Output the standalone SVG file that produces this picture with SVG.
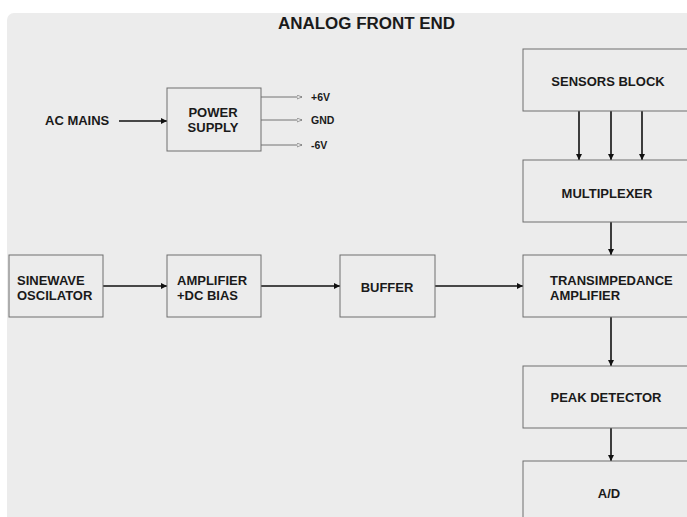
<svg xmlns="http://www.w3.org/2000/svg" width="687" height="517" viewBox="0 0 687 517">
<style>
.box{fill:#ececec;stroke:#6e6e6e;stroke-width:1}
.t{font-family:"Liberation Sans",Arial,sans-serif;font-weight:bold;font-size:13px;fill:#1a1a1a}
.s{font-family:"Liberation Sans",Arial,sans-serif;font-weight:bold;font-size:10.5px;fill:#1a1a1a}
.c{stroke:#111;stroke-width:1.6;fill:none;marker-end:url(#ah)}
.o{stroke:#555;stroke-width:0.8;fill:none;marker-end:url(#oh)}
</style>
<defs>
<marker id="ah" viewBox="0 0 10 10" refX="10" refY="5" markerWidth="6" markerHeight="6" orient="auto" markerUnits="userSpaceOnUse"><path d="M0,0 L10,5 L0,10 z" fill="#111"/></marker>
<marker id="oh" viewBox="0 0 10 10" refX="10" refY="5" markerWidth="6" markerHeight="5" orient="auto" markerUnits="userSpaceOnUse"><path d="M0,1 L10,5 L0,9 z" fill="#ececec" stroke="#555" stroke-width="1"/></marker>
</defs>
<rect x="0" y="0" width="687" height="517" fill="#ffffff"/>
<rect x="7" y="13" width="700" height="520" rx="7" fill="#ececec"/>
<text x="278" y="29" class="t" style="font-size:16px" textLength="177" lengthAdjust="spacingAndGlyphs">ANALOG FRONT END</text>
<g id="connectors">
<line class="c" x1="119" y1="121" x2="167" y2="121"/>
<line class="o" x1="261" y1="97" x2="302" y2="97"/>
<line class="o" x1="261" y1="120" x2="302" y2="120"/>
<line class="o" x1="261" y1="145" x2="302" y2="145"/>
<line class="c" x1="103" y1="286" x2="167" y2="286"/>
<line class="c" x1="261" y1="286" x2="340" y2="286"/>
<line class="c" x1="435" y1="286" x2="523" y2="286"/>
<line class="c" x1="579" y1="111" x2="579" y2="160"/>
<line class="c" x1="611" y1="111" x2="611" y2="160"/>
<line class="c" x1="642" y1="111" x2="642" y2="160"/>
<line class="c" x1="611" y1="222" x2="611" y2="255"/>
<line class="c" x1="611" y1="317" x2="611" y2="366"/>
<line class="c" x1="611" y1="428" x2="611" y2="461"/>
</g>
<g id="acmains"><text x="45" y="125" class="t">AC MAINS</text></g>
<g id="power">
<rect class="box" x="167" y="88" width="94" height="63"/>
<text x="213" y="117" text-anchor="middle" class="t">POWER</text>
<text x="213" y="132" text-anchor="middle" class="t">SUPPLY</text>
</g>
<g id="outs">
<text x="311" y="101" class="s">+6V</text>
<text x="311" y="124" class="s">GND</text>
<text x="311" y="149" class="s">-6V</text>
</g>
<g id="sinewave">
<rect class="box" x="9" y="255" width="94" height="62"/>
<text x="17" y="285" class="t">SINEWAVE</text>
<text x="17" y="300" class="t">OSCILATOR</text>
</g>
<g id="amplifier">
<rect class="box" x="167" y="255" width="94" height="62"/>
<text x="177" y="285" class="t">AMPLIFIER</text>
<text x="177" y="300" class="t">+DC BIAS</text>
</g>
<g id="buffer">
<rect class="box" x="340" y="255" width="95" height="62"/>
<text x="387" y="292" text-anchor="middle" class="t">BUFFER</text>
</g>
<g id="sensors">
<rect class="box" x="523" y="49" width="180" height="62"/>
<text x="608" y="86" text-anchor="middle" class="t">SENSORS BLOCK</text>
</g>
<g id="mux">
<rect class="box" x="523" y="160" width="180" height="62"/>
<text x="607" y="198" text-anchor="middle" class="t">MULTIPLEXER</text>
</g>
<g id="trans">
<rect class="box" x="523" y="255" width="180" height="62"/>
<text x="550" y="285" class="t">TRANSIMPEDANCE</text>
<text x="550" y="300" class="t">AMPLIFIER</text>
</g>
<g id="peak">
<rect class="box" x="523" y="366" width="180" height="62"/>
<text x="606" y="402" text-anchor="middle" class="t">PEAK DETECTOR</text>
</g>
<g id="ad">
<rect class="box" x="523" y="461" width="180" height="80"/>
<text x="609" y="498" text-anchor="middle" class="t">A/D</text>
</g>
</svg>
